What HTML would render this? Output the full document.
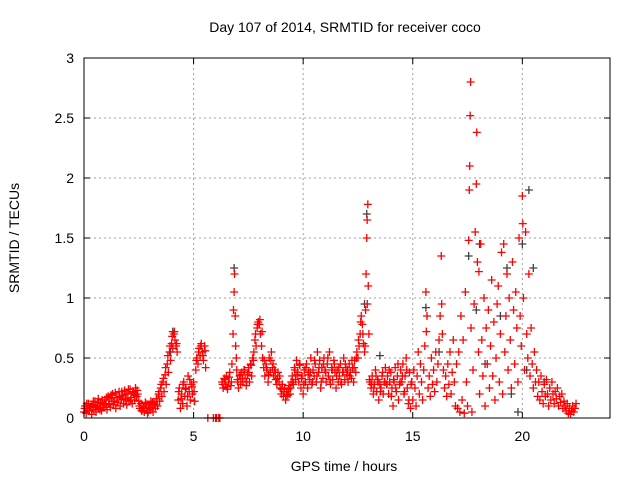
<!DOCTYPE html>
<html><head><meta charset="utf-8"><style>
body{margin:0;background:#fff;}
svg text{font-family:"Liberation Sans",sans-serif;}
</style></head><body>
<svg id="chart" width="640" height="480">
<rect width="640" height="480" fill="#fff"/>
<g id="grid"></g><g id="blk"></g><g id="red"></g><g id="axes"></g>
</svg>
<script>
const xTicks=[0,5,10,15,20];
const yTicks=[0,0.5,1,1.5,2,2.5,3];
const yTickLabels=["0","0.5","1","1.5","2","2.5","3"];
const redT=[0,0.05,0.1,0.15,0.2,0.25,0.3,0.35,0.4,0.45,0.5,0.55,0.6,0.65,0.7,0.75,0.8,0.85,0.9,0.95,1.0,1.05,1.1,1.15,1.2,1.25,1.3,1.35,1.4,1.45,1.5,1.55,1.6,1.65,1.7,1.75,1.8,1.85,1.9,1.95,2.0,2.05,2.1,2.15,2.2,2.25,2.3,2.35,2.4,2.45,
2.5,2.55,2.6,2.65,2.7,2.75,2.8,2.85,2.9,2.95,3.0,3.05,3.1,3.15,3.2,3.25,3.3,
3.35,3.4,3.45,3.5,3.55,3.6,3.65,3.7,3.75,3.8,3.85,3.9,3.95,4.0,4.05,4.1,4.15,4.2,4.25,
4.3,4.35,4.4,4.45,4.5,4.55,4.6,4.65,4.7,4.75,4.8,4.85,4.9,4.95,5.0,5.05,
5.1,5.15,5.2,5.25,5.3,5.35,5.4,5.45,5.5,5.55,
5.65,5.9,6.0,6.05,6.15,6.2,
6.3,6.35,6.4,6.45,6.5,6.55,6.6,6.65,6.7,
6.75,6.8,6.82,6.85,6.87,6.9,6.92,6.95,6.97,
7.0,7.05,7.1,7.15,7.2,7.25,7.3,7.35,7.4,7.45,7.5,7.55,7.6,7.65,7.7,
7.75,7.8,7.85,7.9,7.95,8.0,8.05,8.1,8.15,8.2,
8.25,8.3,8.35,8.4,8.45,8.5,8.55,8.6,8.65,8.7,8.75,8.8,8.85,8.9,8.95,
9.0,9.05,9.1,9.15,9.2,9.25,9.3,9.35,9.4,9.45,
9.5,9.55,9.6,9.65,9.7,9.75,9.8,9.85,9.9,9.95,10.0,10.05,10.1,10.15,10.2,10.25,10.3,10.35,10.4,10.45,10.5,10.55,10.6,10.65,10.7,10.75,10.8,10.85,10.9,10.95,11.0,11.05,11.1,11.15,11.2,11.25,11.3,11.35,11.4,11.45,11.5,11.55,11.6,11.65,11.7,11.75,11.8,11.85,11.9,11.95,12.0,12.05,12.1,12.15,12.2,12.25,12.3,12.35,12.4,12.45,
12.5,12.55,12.6,12.65,12.7,12.75,12.8,12.85,12.87,12.9,12.92,12.95,12.97,13.0,
13.05,13.1,13.15,13.2,13.25,13.3,13.35,13.4,13.45,13.5,13.55,13.6,13.65,13.7,13.75,13.8,13.85,13.9,13.95,14.0,14.05,14.1,14.15,14.2,14.25,14.3,14.35,14.4,14.45,14.5,14.55,14.6,14.65,14.7,14.75,14.8,14.85,14.9,14.95,15.0,
15.05,15.1,15.15,15.2,15.25,15.3,15.35,15.4,15.45,15.5,15.55,15.6,15.62,15.65,15.7,15.75,15.8,15.85,15.9,15.95,16.0,16.05,16.1,16.15,16.2,16.25,16.3,16.32,16.35,16.4,16.45,16.5,16.55,16.6,16.65,16.7,16.75,16.8,16.85,16.9,16.95,17.0,
17.05,17.1,17.15,17.2,17.25,17.3,17.35,17.4,17.45,17.5,17.55,17.58,17.6,17.62,17.64,17.66,17.7,17.75,17.8,17.85,17.9,17.92,17.95,18.0,18.02,18.05,18.1,18.15,18.2,
18.25,18.3,18.35,18.4,18.45,18.5,18.55,18.6,18.65,18.7,18.75,18.8,18.85,18.9,18.95,19.0,19.05,19.1,19.15,19.2,19.25,19.3,19.35,19.4,19.45,19.5,19.55,19.6,19.65,19.7,19.75,19.8,19.85,19.9,19.95,20.0,20.02,20.05,20.1,20.15,20.2,20.25,20.3,20.35,20.4,20.45,20.5,20.55,20.6,
20.65,20.7,20.75,20.8,20.85,20.9,20.95,21.0,21.05,21.1,21.15,21.2,21.25,21.3,21.35,21.4,21.45,21.5,21.55,21.6,21.65,21.7,21.75,21.8,21.85,21.9,21.95,22.0,22.05,22.1,22.15,22.2,22.25,22.3,22.35,22.4,22.45];
const redV=[.05,.10,.04,.08,.12,.06,.09,.03,.11,.07,.14,.05,.10,.16,.08,.12,.06,.13,.09,.15,.11,.07,.18,.12,.09,.16,.20,.11,.14,.08,.17,.13,.22,.10,.15,.19,.12,.23,.16,.11,.20,.14,.24,.17,.12,.21,.15,.25,.18,.20,
.14,.08,.12,.06,.10,.05,.13,.08,.04,.11,.07,.14,.09,.05,.12,.08,.16,
.10,.20,.14,.25,.18,.30,.22,.36,.28,.45,.38,.55,.48,.62,.58,.70,.65,.60,.55,
.15,.25,.08,.20,.12,.30,.18,.25,.10,.35,.22,.15,.28,.20,.30,.14,
.40,.50,.45,.58,.52,.62,.55,.48,.60,.42,
0,0,0,0,0,0,
.30,.25,.33,.28,.35,.24,.30,.38,.27,
.45,.70,.90,1.05,1.20,.85,.60,.50,.40,
.32,.25,.35,.28,.38,.30,.40,.33,.27,.36,.42,.30,.45,.35,.50,
.55,.65,.60,.75,.80,.78,.70,.60,.50,.42,
.35,.45,.40,.30,.50,.38,.55,.42,.35,.40,.32,.28,.38,.30,.25,
.20,.28,.18,.25,.15,.22,.19,.27,.20,.30,
.35,.28,.42,.32,.48,.38,.30,.44,.25,.35,.20,.40,.30,.45,.25,.38,.32,.50,.28,.40,.35,.45,.30,.55,.38,.48,.25,.42,.33,.50,.40,.30,.45,.35,.55,.28,.42,.32,.48,.38,.25,.40,.30,.35,.45,.28,.38,.50,.32,.42,.36,.30,.45,.38,.33,.42,.30,.48,.38,.55,
.50,.60,.70,.85,.78,.62,.55,.90,1.20,1.50,1.65,1.78,1.10,.70,
.30,.25,.35,.20,.28,.40,.22,.32,.15,.28,.25,.35,.20,.30,.42,.28,.35,.20,.30,.38,.25,.10,.30,.42,.22,.35,.15,.28,.40,.30,.45,.20,.35,.50,.25,.12,.38,.08,.30,.15,
.40,.25,.10,.35,.55,.20,.45,.30,.15,.40,.60,1.05,.72,.85,.25,.35,.18,.50,.28,.40,.22,.55,.30,.45,.65,.85,1.35,.95,.70,.40,.25,.35,.18,.45,.28,.55,.20,.38,.65,.30,.10,.45,
.08,.55,.05,.85,.15,.65,.04,1.05,.30,.10,1.48,1.90,2.10,2.52,2.80,.75,.05,.40,.95,1.55,1.95,2.38,1.30,.55,1.22,.20,1.45,.65,.35,
1.0,.10,.75,.45,.90,.25,.60,1.15,.35,.80,.15,.50,.95,1.10,.30,.70,1.38,.20,1.45,.55,.85,1.20,.40,1.00,.65,.25,1.30,.90,.45,1.05,.75,.30,1.50,.85,.60,1.85,1.62,1.00,.40,1.55,.70,.50,1.20,.35,.75,.45,.25,.55,.30,
.40,.18,.30,.15,.35,.22,.12,.28,.18,.32,.20,.10,.25,.15,.30,.20,.12,.22,.16,.25,.10,.18,.13,.20,.08,.14,.10,.06,.12,.04,.08,.03,.06,.10,.05,.08,.12];
const redT2=[0.025,0.125,0.225,0.325,0.425,0.525,0.625,0.725,0.825,0.925,1.025,1.125,1.225,1.325,1.425,1.525,1.625,1.725,1.825,1.925,2.025,2.125,2.225,2.325,2.425,
2.525,2.625,2.725,2.825,2.925,3.025,3.125,3.225,
3.325,3.425,3.525,3.625,3.725,3.825,3.925,4.025,4.125,4.225,
4.325,4.425,4.525,4.625,4.725,4.825,4.925,5.025,
5.125,5.225,5.325,5.425,5.525,
6.325,6.425,6.525,6.625,6.725,
7.025,7.125,7.225,7.325,7.425,7.525,7.625,7.725,
7.825,7.925,8.025,8.125,8.225,
8.325,8.425,8.525,8.625,8.725,8.825,8.925,
9.025,9.125,9.225,9.325,9.425,
9.525,9.625,9.725,9.825,9.925,10.025,10.125,10.225,10.325,10.425,10.525,10.625,10.725,10.825,10.925,11.025,11.125,11.225,11.325,11.425,11.525,11.625,11.725,11.825,11.925,12.025,12.125,12.225,12.325,12.425,
12.525,12.625,12.725,12.825,12.925,
13.025,13.125,13.225,13.325,13.425,13.525,13.625,13.725,13.825,13.925,14.025,14.125,14.225,14.325,14.425,14.525,14.625,14.725,14.825,14.925];
const redV2=[.08,.12,.06,.10,.14,.09,.13,.07,.15,.11,.17,.12,.19,.14,.21,.13,.18,.22,.16,.20,.24,.15,.22,.19,.23,
.10,.06,.09,.12,.05,.09,.13,.11,
.16,.22,.28,.33,.42,.52,.60,.68,.72,.62,
.22,.16,.28,.24,.18,.32,.26,.22,
.48,.55,.60,.52,.56,
.28,.32,.26,.34,.30,
.30,.36,.33,.40,.30,.38,.44,.48,
.70,.78,.82,.72,.48,
.42,.36,.48,.45,.38,.33,.35,
.24,.22,.18,.24,.25,
.30,.40,.36,.45,.33,.28,.42,.36,.38,.30,.48,.35,.42,.30,.45,.38,.50,.32,.40,.45,.35,.42,.30,.38,.45,.40,.35,.48,.42,.50,
.65,.80,.70,.60,.95,
.32,.28,.25,.35,.30,.22,.38,.30,.28,.40,.18,.32,.25,.45,.30,.35,.22,.40,.15,.28];
const blkT=[3.95,4.05,6.85,12.8,12.9,13.5,15.6,16.2,17.55,17.9,18.05,18.3,19.0,19.3,19.5,20.0,20.3,20.5,20.2,21.0,19.8];
const blkV=[.55,.72,1.25,.95,1.70,.52,.92,.55,1.35,.90,1.45,.45,.85,1.25,.20,1.45,1.90,1.25,.40,.30,.05];
const NS="http://www.w3.org/2000/svg";
const L=84,R=610,T=58,B=418;
const xs=t=>L+(t/24)*(R-L);
const ys=v=>B-(v/3)*(B-T);
function mk(tag,at,parent){const e=document.createElementNS(NS,tag);for(const k in at)e.setAttribute(k,at[k]);parent.appendChild(e);return e;}
const grid=document.getElementById('grid'),axes=document.getElementById('axes');
yTicks.forEach((v,i)=>{
 if(v>0&&v<3){const g=mk('line',{x1:L,x2:R,y1:ys(v),y2:ys(v),stroke:'#a0a0a0','stroke-dasharray':'2,3'},grid);
 }
 const tk=mk('line',{x1:L,x2:L+6,y1:ys(v),y2:ys(v),stroke:'#000'},axes);
 
 mk('line',{x1:R-6,x2:R,y1:ys(v),y2:ys(v),stroke:'#000'},axes);
 const tx=mk('text',{x:L-10,y:ys(v)+5,'text-anchor':'end','font-size':'14'},axes);tx.textContent=yTickLabels[i];
 
});
xTicks.forEach(t=>{
 if(t>0){const g=mk('line',{x1:xs(t),x2:xs(t),y1:T,y2:B,stroke:'#a0a0a0','stroke-dasharray':'2,3'},grid);
 }
 const tk=mk('line',{x1:xs(t),x2:xs(t),y1:B,y2:B-6,stroke:'#000'},axes);
 
 mk('line',{x1:xs(t),x2:xs(t),y1:T,y2:T+6,stroke:'#000'},axes);
 const tx=mk('text',{x:xs(t),y:B+23,'text-anchor':'middle','font-size':'14'},axes);tx.textContent=String(t);
 
});
const fr=mk('rect',{x:L,y:T,width:R-L,height:B-T,fill:'none',stroke:'#000'},axes);

function plus(t,v,col,parent,name){const x=xs(t),y=ys(v);
 const p=mk('path',{d:`M${x-4},${y}H${x+4}M${x},${y-4}V${y+4}`,stroke:col,'stroke-width':'1.3',fill:'none'},parent);
 
 }
const blk=document.getElementById('blk'),red=document.getElementById('red');
blkT.forEach((t,i)=>plus(t,blkV[i],'#404040',blk,'point-black'));
redT.forEach((t,i)=>plus(t,redV[i],'#ff0000',red,'point-red'));
redT2.forEach((t,i)=>plus(t,redV2[i],'#ff0000',red,'point-red'));
const ti=mk('text',{x:345,y:32,'text-anchor':'middle','font-size':'14'},axes);ti.textContent='Day 107 of 2014, SRMTID for receiver coco';

const xl=mk('text',{x:344,y:471,'text-anchor':'middle','font-size':'14'},axes);xl.textContent='GPS time / hours';

const yl=mk('text',{x:0,y:0,'text-anchor':'middle','font-size':'14',transform:'translate(19,238) rotate(-90)'},axes);yl.textContent='SRMTID / TECUs';

</script>
</body></html>
